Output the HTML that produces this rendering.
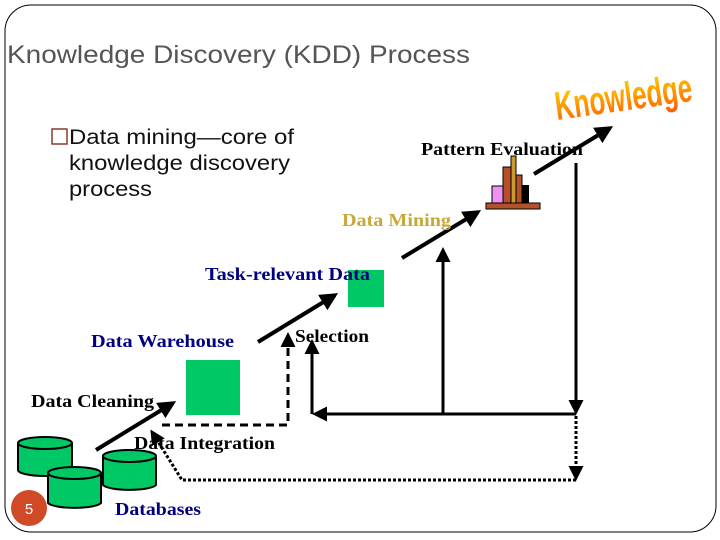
<!DOCTYPE html>
<html><head><meta charset="utf-8"><style>
body{margin:0;background:#fff;width:720px;height:540px;overflow:hidden}
svg{display:block}
.s{font-family:"Liberation Serif",serif;font-weight:bold;font-size:18px}
</style></head><body>
<svg width="720" height="540" viewBox="0 0 720 540" xmlns="http://www.w3.org/2000/svg">
<defs>
<marker id="ah" viewBox="0 0 10 10" refX="8" refY="5" markerWidth="4.5" markerHeight="4.5" orient="auto"><path d="M0,0L10,5L0,10z" fill="#000"/></marker>
<marker id="as" viewBox="0 0 10 10" refX="8" refY="5" markerWidth="5" markerHeight="5" orient="auto"><path d="M0,0L10,5L0,10z" fill="#000"/></marker>
<linearGradient id="kg" x1="0" y1="0" x2="0" y2="1"><stop offset="0" stop-color="#ffd800"/><stop offset="1" stop-color="#ff5a00"/></linearGradient>
</defs>
<rect x="5" y="5" width="711" height="527" rx="26" fill="none" stroke="#000" stroke-width="1"/>
<text x="7" y="63" font-family="Liberation Sans,sans-serif" font-size="25" fill="#555" textLength="463" lengthAdjust="spacingAndGlyphs">Knowledge Discovery (KDD) Process</text>
<rect x="52" y="129" width="15" height="15" fill="none" stroke="#8b3a2a" stroke-width="1.5"/>
<g font-family="Liberation Sans,sans-serif" font-size="21" fill="#111">
<text x="69" y="144" textLength="225" lengthAdjust="spacingAndGlyphs">Data mining—core of</text>
<text x="69" y="170" textLength="221" lengthAdjust="spacingAndGlyphs">knowledge discovery</text>
<text x="69" y="196" textLength="83" lengthAdjust="spacingAndGlyphs">process</text>
</g>
<text x="0" y="0" transform="translate(557,120) rotate(-8)" font-family="Liberation Sans Narrow,Liberation Sans,sans-serif" font-weight="bold" font-size="40" fill="url(#kg)" textLength="138" lengthAdjust="spacingAndGlyphs">Knowledge</text>
<text class="s" x="421" y="155" fill="#000" textLength="162" lengthAdjust="spacingAndGlyphs">Pattern Evaluation</text>
<rect x="492" y="186" width="11" height="17" fill="#f090f0" stroke="#000"/>
<rect x="503" y="167" width="9" height="36" fill="#b5502a" stroke="#000"/>
<rect x="511" y="156" width="5" height="47" fill="#c89a30" stroke="#000"/>
<rect x="516" y="175" width="6" height="28" fill="#b5502a" stroke="#000"/>
<rect x="522" y="185" width="7" height="18" fill="#000"/>
<rect x="486" y="203" width="54" height="6" fill="#b5502a" stroke="#000"/>
<g stroke="#000" stroke-width="4" fill="none" marker-end="url(#ah)">
<line x1="534" y1="174" x2="610" y2="128"/>
<line x1="402" y1="258" x2="478" y2="212"/>
<line x1="258" y1="342" x2="335" y2="295"/>
<line x1="96" y1="450" x2="173" y2="403"/>
</g>
<text class="s" x="342" y="226" fill="#c8a838" textLength="109" lengthAdjust="spacingAndGlyphs">Data Mining</text>
<rect x="348" y="270" width="36" height="37" fill="#00c864"/>
<text class="s" x="205" y="280" fill="#000080" textLength="165" lengthAdjust="spacingAndGlyphs">Task-relevant Data</text>
<text class="s" x="295" y="342" fill="#000" textLength="74" lengthAdjust="spacingAndGlyphs">Selection</text>
<text class="s" x="91" y="347" fill="#000080" textLength="143" lengthAdjust="spacingAndGlyphs">Data Warehouse</text>
<rect x="186" y="360" width="54" height="55" fill="#00c864"/>
<text class="s" x="31" y="407" fill="#000" textLength="123" lengthAdjust="spacingAndGlyphs">Data Cleaning</text>
<text class="s" x="134" y="449" fill="#000" textLength="141" lengthAdjust="spacingAndGlyphs">Data Integration</text>
<text class="s" x="115" y="515" fill="#000080" textLength="86" lengthAdjust="spacingAndGlyphs">Databases</text>
<g stroke="#000" stroke-width="3" fill="none">
<polyline points="162,425 288,425 288,335" stroke-dasharray="8,5" marker-end="url(#as)"/>
<line x1="576" y1="414" x2="315" y2="414" marker-end="url(#as)"/>
<line x1="312" y1="414" x2="312" y2="342" marker-end="url(#as)"/>
<line x1="443" y1="414" x2="443" y2="250" marker-end="url(#as)"/>
<line x1="576" y1="163" x2="576" y2="412" marker-end="url(#as)"/>
<line x1="576" y1="416" x2="576" y2="478" stroke-dasharray="3,2" marker-end="url(#as)"/>
<polyline points="576,480 182,480 152,432" stroke-dasharray="3,2" marker-end="url(#as)"/>
</g>
<g stroke="#000" stroke-width="2" fill="#00c864">
<path d="M18,443 v27 a27,6 0 0 0 54,0 v-27"/><ellipse cx="45" cy="443" rx="27" ry="6"/>
<path d="M103,456 v29 a27,6 0 0 0 53,0 v-29"/><ellipse cx="129.5" cy="456" rx="26.5" ry="6"/>
<path d="M48,473 v30 a27,6 0 0 0 53,0 v-30"/><ellipse cx="74.5" cy="473" rx="26.5" ry="6"/>
</g>
<circle cx="29" cy="508" r="18" fill="#d04a28"/>
<text x="29" y="514" text-anchor="middle" font-family="Liberation Sans,sans-serif" font-size="15" fill="#fff">5</text>
</svg>
</body></html>
